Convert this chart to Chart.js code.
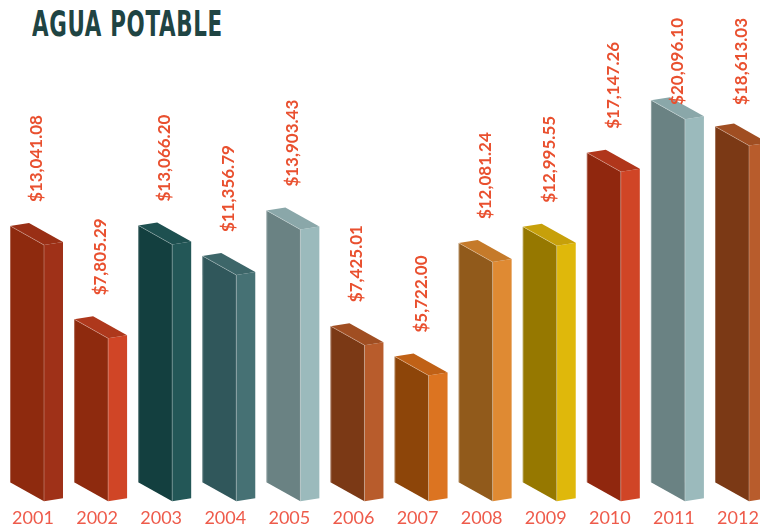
<!DOCTYPE html>
<html>
<head>
<meta charset="utf-8">
<script src="https://cdn.jsdelivr.net/npm/chart.js@4/dist/chart.umd.min.js"></script>
<style>
html, body { margin: 0; padding: 0; background: #fff; }
#wrap { position: relative; width: 760px; height: 529px; overflow: hidden; }
#titulo {
    position: absolute; left: 32px; top: 7px;
    font-family: "Liberation Sans Narrow", "DejaVu Sans Condensed", sans-serif;
    font-weight: bold; font-size: 35px; line-height: 1;
    color: #1f4443; letter-spacing: 1px; white-space: nowrap;
    transform: scaleX(0.68); transform-origin: 0 0;
}
canvas { position: absolute; left: 0; top: 0; }
</style>
</head>
<body>
<div id="wrap">
    <div id="titulo">AGUA POTABLE</div>
    <canvas id="graficoAgua" width="760" height="529"></canvas>
</div>
<script>
const anios = ['2001', '2002', '2003', '2004', '2005', '2006', '2007', '2008', '2009', '2010', '2011', '2012'];
const montos = [13041.08, 7805.29, 13066.20, 11356.79, 13903.43, 7425.01, 5722.00, 12081.24, 12995.55, 17147.26, 20096.10, 18613.03];

// caras de cada barra
const frente = ['#8e2a0e', '#8e2a0e', '#133f3f', '#30575b', '#6a8283', '#7b3915', '#8d4509', '#915a1b', '#967800', '#90270e', '#6a8283', '#7b3915'];
const lado   = ['#9f3118', '#d04526', '#235757', '#467174', '#9bbabc', '#b85c2c', '#dc7421', '#df8a33', '#dfb80b', '#d04526', '#9bbabc', '#b85c2c'];
const tapa   = ['#992f15', '#ae381c', '#1e5050', '#3d6669', '#8aa7a9', '#a04e22', '#c06116', '#c57a2a', '#c7a00a', '#b0361b', '#8aa7a9', '#a04e22'];

const BASE = -1333;

function cara(ctx, pts, color) {
    ctx.beginPath();
    ctx.moveTo(pts[0][0], pts[0][1]);
    for (let k = 1; k < pts.length; k++) ctx.lineTo(pts[k][0], pts[k][1]);
    ctx.closePath();
    ctx.fillStyle = color;
    ctx.fill();
}

const barras3d = {
    id: 'barras3d',
    afterDatasetsDraw(chart) {
        const ctx = chart.ctx;
        const meta = chart.getDatasetMeta(0);
        const fw = 34, sw = 19, dy = 19, by = 3;
        ctx.save();
        meta.data.forEach((bar, i) => {
            const L = bar.x - 23, t = bar.y, b = bar.base;
            cara(ctx, [[L + fw, t + dy], [L + fw + sw, t + dy - by], [L + fw + sw, b + dy - by], [L + fw, b + dy]], lado[i]);
            cara(ctx, [[L, t], [L + fw, t + dy], [L + fw, b + dy], [L, b]], frente[i]);
            cara(ctx, [[L, t], [L + sw, t - by], [L + fw + sw, t + dy - by], [L + fw, t + dy]], tapa[i]);

            ctx.strokeStyle = 'rgba(255,255,255,0.28)';
            ctx.lineWidth = 1;
            ctx.beginPath();
            ctx.moveTo(L + 0.5, b);
            ctx.lineTo(L + 0.5, t);
            ctx.lineTo(L + fw, t + dy);
            ctx.lineTo(L + fw, b + dy);
            ctx.stroke();

            // etiqueta de valor
            const texto = '$' + montos[i].toLocaleString('en-US', { minimumFractionDigits: 2, maximumFractionDigits: 2 });
            ctx.font = 'bold 17px Lato';
            const ancho = ctx.measureText(texto).width;
            const y0 = Math.max(t - 24, 18 + ancho);
            ctx.save();
            ctx.translate(L + 26.5, y0);
            ctx.rotate(-Math.PI / 2);
            ctx.fillStyle = '#e9502f';
            ctx.textAlign = 'left';
            ctx.textBaseline = 'middle';
            ctx.fillText(texto, 0, 0);
            ctx.restore();
        });
        ctx.restore();
    }
};

new Chart(document.getElementById('graficoAgua').getContext('2d'), {
    type: 'bar',
    data: {
        labels: anios,
        datasets: [{
            data: montos,
            base: BASE,
            backgroundColor: 'rgba(0,0,0,0)',
            barThickness: 53
        }]
    },
    options: {
        responsive: false,
        animation: false,
        layout: { padding: { left: 33, right: 22, top: 40, bottom: 0 } },
        plugins: {
            legend: { display: false },
            tooltip: { enabled: false }
        },
        scales: {
            x: {
                offset: false,
                grid: { display: false, drawTicks: false },
                border: { display: false },
                ticks: {
                    color: '#ee5b4b',
                    font: { family: 'Lato', size: 18 },
                    padding: 0,
                    maxRotation: 0,
                    autoSkip: false
                }
            },
            y: {
                display: false,
                min: -2739,
                max: 23470
            }
        }
    },
    plugins: [barras3d]
});
</script>
</body>
</html>
